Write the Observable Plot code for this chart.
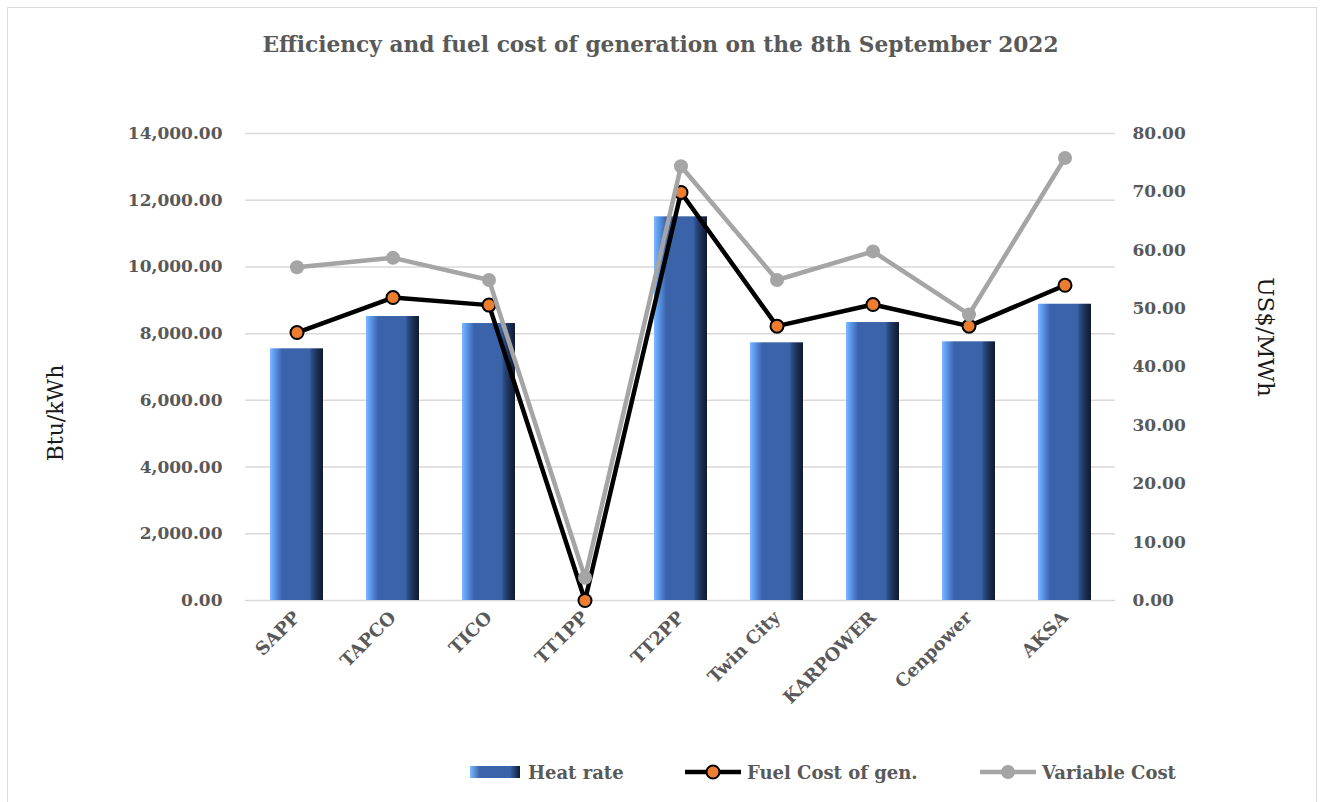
<!DOCTYPE html>
<html>
<head>
<meta charset="utf-8">
<script src="https://cdn.jsdelivr.net/npm/d3@7"></script>
<script src="https://cdn.jsdelivr.net/npm/@observablehq/plot@0.6"></script>
<style>
  html, body { margin: 0; padding: 0; background: #fff; }
  #wrap { position: relative; width: 1321px; height: 802px; overflow: hidden; }
  #frame { position: absolute; left: 7px; top: 7px; width: 1310px; height: 800px; border: 1px solid #d9d9d9; box-sizing: border-box; pointer-events: none; }
  #title { height: 90px; line-height: 90px; text-align: center; font-family: "DejaVu Serif", serif; font-weight: bold; font-size: 21.7px; color: #595959; }
  #chart svg { display: block; }
  #legend { position: relative; height: 52px; font-family: "DejaVu Serif", serif; font-weight: bold; font-size: 18px; color: #595959; }
  .item { position: absolute; top: 10px; height: 24px; display: flex; align-items: center; }
  .item svg { display: block; margin-right: 6px; }
</style>
</head>
<body>
<div id="wrap">
  <div id="title">Efficiency and fuel cost of generation on the 8th September 2022</div>
  <div id="chart"></div>
  <div id="legend"></div>
  <div id="frame"></div>
</div>
<script>
// ---- data ----
const categories = ["SAPP", "TAPCO", "TICO", "TT1PP", "TT2PP", "Twin City", "KARPOWER", "Cenpower", "AKSA"];
const heatRate = [7545, 8513, 8303, 0, 11502, 7725, 8333, 7755, 8882];          // Btu/kWh (left axis)
const fuelCost = [45.9, 51.9, 50.6, 0, 69.9, 47.0, 50.7, 47.0, 54.0];          // US$/MWh (right axis)
const variableCost = [57.1, 58.7, 54.9, 3.9, 74.4, 54.9, 59.8, 49.0, 75.8];    // US$/MWh (right axis)
const leftTicks = [0, 2000, 4000, 6000, 8000, 10000, 12000, 14000];
const rightTicks = [0, 10, 20, 30, 40, 50, 60, 70, 80];
const seriesNames = ["Heat rate", "Fuel Cost of gen.", "Variable Cost"];

const leftMax = 14000, rightMax = 80;
const k = leftMax / rightMax; // right-axis values mapped onto left scale

const rows = categories.map((c, i) => ({
  cat: c, heat: heatRate[i], fuel: fuelCost[i] * k, variable: variableCost[i] * k
}));

const tickFont = {fontFamily: "DejaVu Serif, serif", fontWeight: "bold"};
const fmt2 = d3.format(",.2f");

const plot = Plot.plot({
  width: 1321,
  height: 660,
  marginTop: 43,
  marginBottom: 150,
  marginLeft: 245,
  marginRight: 206,
  style: {background: "transparent", fontFamily: "DejaVu Serif, serif"},
  x: {domain: categories, paddingInner: 0.45, paddingOuter: 0.225, label: null},
  y: {domain: [0, leftMax], label: null},
  marks: [
    Plot.gridY(leftTicks, {stroke: "#d9d9d9", strokeOpacity: 1, strokeWidth: 1.5}),
    Plot.axisY(leftTicks, {anchor: "left", tickSize: 0, tickPadding: 23, tickFormat: fmt2, fontSize: 17, fill: "#595959", label: null, ...tickFont}),
    Plot.axisY(rightTicks.map(v => v * k), {anchor: "right", tickSize: 0, tickPadding: 17, tickFormat: d => (d / k).toFixed(2), fontSize: 17, fill: "#595959", label: null, ...tickFont}),
    Plot.axisX({tickRotate: -45, tickSize: 0, tickPadding: 14, fontSize: 18, fill: "#595959", label: null, ...tickFont}),
    Plot.barY(rows, {x: "cat", y: "heat", fill: "url(#barGrad)", ariaLabel: "heat-bars"}),
    Plot.line(rows, {x: "cat", y: "fuel", stroke: "#000", strokeWidth: 4.5, strokeLinejoin: "round"}),
    Plot.dot(rows, {x: "cat", y: "fuel", r: 6.5, fill: "#ed7d31", stroke: "#000", strokeWidth: 2}),
    Plot.line(rows, {x: "cat", y: "variable", stroke: "#a5a5a5", strokeWidth: 4.5, strokeLinejoin: "round"}),
    Plot.dot(rows, {x: "cat", y: "variable", r: 7, fill: "#a5a5a5"}),
    Plot.text(["Btu/kWh"], {frameAnchor: "left", textAnchor: "middle", dx: -190, dy: 46, rotate: -90, fontSize: 22, fill: "#1a1a1a", fontFamily: "DejaVu Serif, serif"}),
    Plot.text(["US$/MWh"], {frameAnchor: "right", textAnchor: "middle", dx: 150, dy: -30, rotate: 90, fontSize: 23, fill: "#1a1a1a", fontFamily: "DejaVu Serif, serif"})
  ]
});

// gradient definitions
const NS = "http://www.w3.org/2000/svg";
function addGradients(svg) {
  const defs = document.createElementNS(NS, "defs");
  defs.innerHTML = `
    <linearGradient id="barGrad" x1="0" x2="1" y1="0" y2="0">
      <stop offset="0" stop-color="#7cbaff"/>
      <stop offset="0.06" stop-color="#62a2f2"/>
      <stop offset="0.19" stop-color="#4473bd"/>
      <stop offset="0.23" stop-color="#3a63a9"/>
      <stop offset="0.74" stop-color="#3a63a9"/>
      <stop offset="0.79" stop-color="#2a4a82"/>
      <stop offset="0.9" stop-color="#1a2d52"/>
      <stop offset="1" stop-color="#0f1a30"/>
    </linearGradient>
    <linearGradient id="topGrad" x1="0" x2="0" y1="0" y2="1">
      <stop offset="0" stop-color="#5a8bd6"/>
      <stop offset="1" stop-color="#3a63a9"/>
    </linearGradient>`;
  svg.insertBefore(defs, svg.firstChild);
}
addGradients(plot);

// bevel on top of each bar (derived from rendered bar rects)
plot.querySelectorAll('g[aria-label="heat-bars"] rect').forEach(r => {
  const x = +r.getAttribute("x"), y = +r.getAttribute("y");
  const w = +r.getAttribute("width"), h = +r.getAttribute("height");
  if (h < 2) return;
  const b = Math.min(12, h);
  const g = r.parentNode;
  const top = document.createElementNS(NS, "polygon");
  top.setAttribute("points", `${x},${y} ${x + w},${y} ${x + w - b},${y + b} ${x + b},${y + b}`);
  top.setAttribute("fill", "url(#topGrad)");
  const edge = document.createElementNS(NS, "line");
  edge.setAttribute("x1", x); edge.setAttribute("x2", x + w);
  edge.setAttribute("y1", y + 0.5); edge.setAttribute("y2", y + 0.5);
  edge.setAttribute("stroke", "#7aa6e6"); edge.setAttribute("stroke-width", 1);
  g.appendChild(top); g.appendChild(edge);
});

document.getElementById("chart").appendChild(plot);

// legend
const legend = document.getElementById("legend");
function item(left, swatchSvg, label) {
  const d = document.createElement("div");
  d.className = "item";
  d.style.left = left + "px";
  d.innerHTML = swatchSvg + `<span>${label}</span>`;
  legend.appendChild(d);
}
item(470, `<svg width="52" height="24"><defs><linearGradient id="lg1" x1="0" x2="1"><stop offset="0" stop-color="#7cbaff"/><stop offset="0.2" stop-color="#3a63a9"/><stop offset="0.8" stop-color="#3a63a9"/><stop offset="1" stop-color="#0f1a30"/></linearGradient></defs><rect x="0" y="6" width="50" height="12" fill="url(#lg1)"/></svg>`, seriesNames[0]);
item(685, `<svg width="56" height="24"><line x1="0" x2="56" y1="12" y2="12" stroke="#000" stroke-width="4.5"/><circle cx="28" cy="12" r="6.5" fill="#ed7d31" stroke="#000" stroke-width="2"/></svg>`, seriesNames[1]);
item(980, `<svg width="56" height="24"><line x1="0" x2="56" y1="12" y2="12" stroke="#a5a5a5" stroke-width="4.5"/><circle cx="28" cy="12" r="7" fill="#a5a5a5"/></svg>`, seriesNames[2]);
</script>
</body>
</html>
